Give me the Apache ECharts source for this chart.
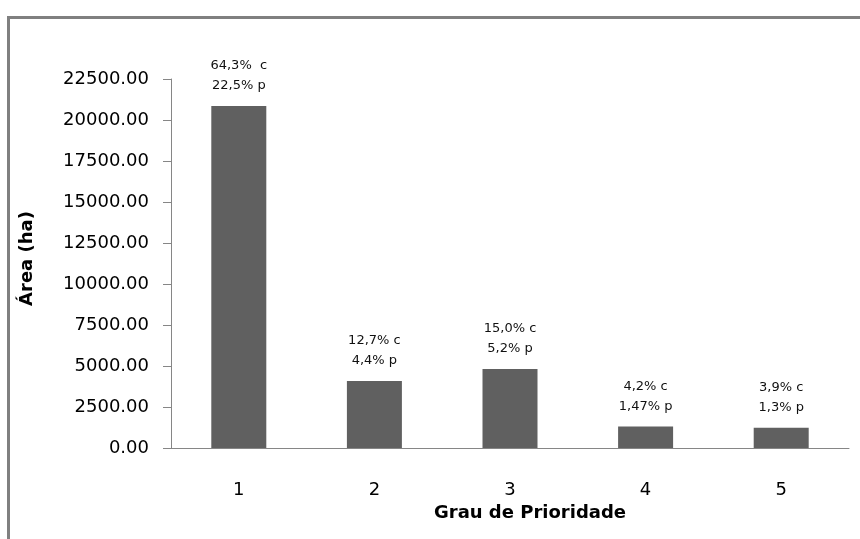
<!DOCTYPE html>
<html>
<head>
<meta charset="utf-8">
<script src="https://cdn.jsdelivr.net/npm/echarts@6/dist/echarts.min.js"></script>
<style>
  html, body { margin: 0; padding: 0; background: #ffffff; }
  #chart { width: 860px; height: 539px; }
</style>
</head>
<body>
<div id="chart"></div>
<script>
// Priority classes and their area (ha)
const categories = ['1', '2', '3', '4', '5'];
const areaHa = [20850, 4090, 4820, 1310, 1230];
// Percentage annotations shown above each bar
const pctC = ['64,3%  c', '12,7% c', '15,0% c', '4,2% c', '3,9% c'];
const pctP = ['22,5% p', '4,4% p', '5,2% p', '1,47% p', '1,3% p'];
// Y axis range
const yMin = 0, yMax = 22500, yStep = 2500;

const font = 'DejaVu Sans';
const chart = echarts.init(document.getElementById('chart'));

chart.setOption({
  animation: false,
  backgroundColor: '#ffffff',
  graphic: [{
    type: 'rect',
    shape: { x: 8.5, y: 17.5, width: 1000, height: 1000 },
    style: { fill: 'none', stroke: '#808080', lineWidth: 3 },
    silent: true
  }],
  grid: { left: 171, right: 11, top: 79, bottom: 91 },
  xAxis: {
    type: 'category',
    data: categories,
    name: 'Grau de Prioridade',
    nameLocation: 'middle',
    nameGap: 55,
    nameTextStyle: { fontFamily: font, fontSize: 18, fontWeight: 'bold', color: '#000', padding: [0, 0, 0, 40] },
    axisLine: { lineStyle: { color: '#868686', width: 1 } },
    axisTick: { show: false },
    axisLabel: { margin: 33, fontFamily: font, fontSize: 18, color: '#000' }
  },
  yAxis: {
    type: 'value',
    min: yMin, max: yMax, interval: yStep,
    name: 'Área (ha)',
    nameLocation: 'middle',
    nameRotate: 90,
    nameGap: 135,
    nameTextStyle: { fontFamily: font, fontSize: 18, fontWeight: 'bold', color: '#000', padding: [0, 0, 0, 10] },
    axisLine: { show: true, lineStyle: { color: '#868686', width: 1 } },
    axisTick: { show: true, length: 8, lineStyle: { color: '#868686' } },
    splitLine: { show: false },
    axisLabel: {
      margin: 22, fontFamily: font, fontSize: 18, color: '#000',
      formatter: v => v.toFixed(2)
    }
  },
  series: [{
    type: 'bar',
    data: areaHa,
    barWidth: 55,
    itemStyle: { color: '#606060' },
    label: {
      show: true,
      position: 'top',
      distance: 10,
      formatter: p => '{c|' + pctC[p.dataIndex] + '}\n{p|' + pctP[p.dataIndex] + '}',
      rich: {
        c: { fontFamily: font, fontSize: 13, color: '#111', lineHeight: 20 },
        p: { fontFamily: font, fontSize: 13, color: '#111', lineHeight: 20 }
      }
    }
  }]
});
</script>
</body>
</html>
